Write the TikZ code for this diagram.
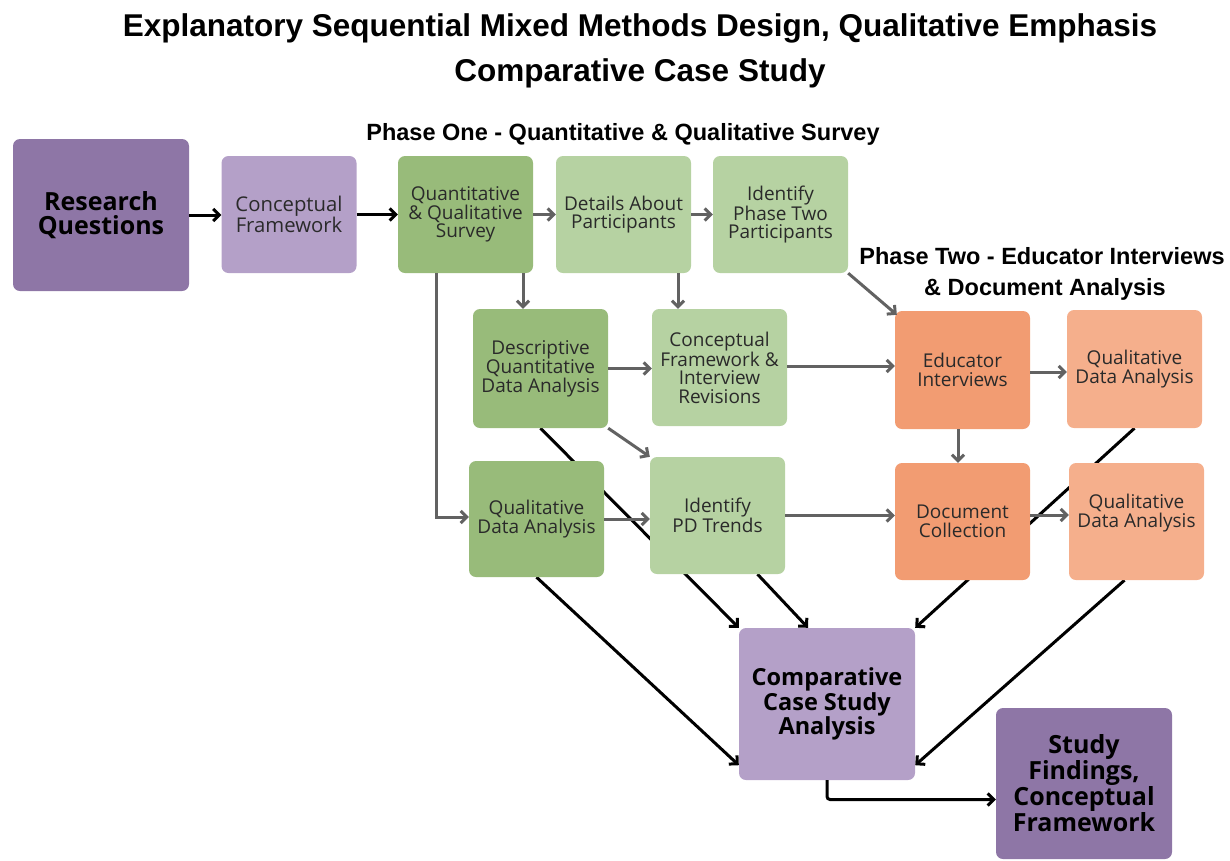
\documentclass[tikz,border=0pt]{standalone}
\usepackage{fontspec}
\setmainfont{Open Sans}
\newfontfamily\headfont{Liberation Sans}
\usetikzlibrary{arrows.meta,calc}
\pgfdeclarelayer{back}
\pgfsetlayers{back,main}

\definecolor{plumdark}{HTML}{8E76A6}
\definecolor{plumlight}{HTML}{B4A0C8}
\definecolor{greendark}{HTML}{98BB7A}
\definecolor{greenlight}{HTML}{B6D2A2}
\definecolor{orangedark}{HTML}{F29C72}
\definecolor{orangelight}{HTML}{F5AF8C}
\definecolor{ink}{HTML}{2A2A2A}
\definecolor{flowgray}{HTML}{626262}

\tikzset{
  box/.style={rounded corners=7pt, inner sep=0pt, align=center, text=ink,
    font=\fontsize{19}{18.5}\selectfont},
  smallbox/.style={box, minimum width=135pt, minimum height=117pt},
  bigbox/.style={box, minimum width=176pt, minimum height=152pt,
    font=\fontsize{25}{24.5}\selectfont\bfseries, text=black},
  head/.style={font=\headfont\bfseries\fontsize{31.5}{31.5}\selectfont, text=black},
  phase/.style={font=\headfont\bfseries\fontsize{23.5}{23.5}\selectfont, text=black},
  grayflow/.style={draw=flowgray, line width=3pt,
    -{Straight Barb[length=6pt,width=12pt]}},
  blackflow/.style={draw=black, line width=3pt,
    -{Straight Barb[length=6pt,width=12pt]}},
}

\begin{document}
\begin{tikzpicture}[x=1pt,y=-1pt]
\useasboundingbox (0,0) rectangle (1230,860);

% headings
\node[head] (t1) at (640,28) {Explanatory Sequential Mixed Methods Design, Qualitative Emphasis};
\node[head] (t2) at (640,73) {Comparative Case Study};
\node[phase] (p1) at (623,134) {Phase One - Quantitative \& Qualitative Survey};
\node[phase] (p2a) at (1042,256) {Phase Two - Educator Interviews};
\node[phase] (p2b) at (1045,289) {\& Document Analysis};

% boxes
\node[bigbox, fill=plumdark] (rq) at (101,215) {Research\\Questions};
\node[smallbox, fill=plumlight, font=\fontsize{20.3}{19}\selectfont] (cf) at (289,214.5) {Conceptual\\Framework};
\node[smallbox, fill=greendark] (qqs) at (465.5,214.5) {Quantitative\\\& Qualitative\\Survey};
\node[smallbox, fill=greenlight] (dap) at (623.5,214.5) {Details About\\Participants};
\node[smallbox, fill=greenlight] (ipt) at (780.5,214.5) {Identify\\Phase Two\\Participants};
\node[smallbox, fill=greendark, minimum height=119pt] (dqda) at (540.5,368.5) {Descriptive\\Quantitative\\Data Analysis};
\node[smallbox, fill=greenlight] (cfir) at (719.5,367.5) {Conceptual\\Framework \&\\Interview\\Revisions};
\node[smallbox, fill=greendark, minimum height=116pt] (qda1) at (536.5,519) {Qualitative\\Data Analysis};
\node[smallbox, fill=greenlight] (pdt) at (717.5,515.5) {Identify\\PD Trends};
\node[smallbox, fill=orangedark, minimum height=118pt] (ei) at (962.5,370) {Educator\\Interviews};
\node[smallbox, fill=orangelight, minimum height=118pt] (qda2) at (1134.5,369) {Qualitative\\Data Analysis};
\node[smallbox, fill=orangedark] (dc) at (962.5,521.5) {Document\\Collection};
\node[smallbox, fill=orangelight] (qda3) at (1136.5,521.5) {};
\node[box] (qda3t) at (1136.5,513) {Qualitative\\Data Analysis};
\node[bigbox, fill=plumlight, font=\fontsize{23.5}{23}\selectfont\bfseries] (ccsa) at (827,704) {Comparative\\Case Study\\Analysis};
\node[bigbox, fill=plumdark, minimum height=151pt] (sf) at (1084,783.5) {Study\\Findings,\\Conceptual\\Framework};

% lines into the comparative analysis run behind the boxes
\begin{pgfonlayer}{back}
  \draw[blackflow] (dqda.south) -- (ccsa.north west);
  \draw[blackflow] ([xshift=40pt]pdt.south) -- ([xshift=-19pt]ccsa.north);
  \draw[blackflow] (qda1.south) -- ([yshift=15pt]ccsa.south west);
  \draw[blackflow] (qda2.south) -- (ccsa.north east);
  \draw[blackflow] ([xshift=-12pt]qda3.south) -- ([yshift=15pt]ccsa.south east);
\end{pgfonlayer}

% main sequence
\draw[blackflow] (rq.east) -- (rq.east -| cf.west);
\draw[blackflow] (cf.east) -- (cf.east -| qqs.west);
\draw[blackflow, rounded corners=3pt] (ccsa.south) |- ([yshift=-16pt]sf.west);

% phase one
\draw[grayflow] (qqs.east) -- (qqs.east -| dap.west);
\draw[grayflow] (dap.east) -- (dap.east -| ipt.west);
\draw[grayflow] ([xshift=57.5pt]qqs.south) -- ([xshift=57.5pt]qqs.south |- dqda.north);
\draw[grayflow] ([xshift=54.5pt]dap.south) -- ([xshift=54.5pt]dap.south |- cfir.north);
\draw[grayflow] ([xshift=-29.5pt]qqs.south) |- ([yshift=2pt]qda1.west);
\draw[grayflow] (dqda.east) -- (dqda.east -| cfir.west);
\draw[grayflow] (dqda.south east) -- (pdt.north west);
\draw[grayflow] (qda1.east) -- (qda1.east -| pdt.west);

% phase two
\draw[grayflow] (ipt.south east) -- ([xshift=2pt,yshift=-4pt]ei.north west);
\draw[grayflow] ([yshift=1.5pt]cfir.east) -- ([yshift=1.5pt]cfir.east -| ei.west);
\draw[grayflow] ([yshift=-2pt]ei.east) -- ([yshift=-2pt]ei.east -| qda2.west);
\draw[grayflow] ([xshift=-4.5pt]ei.south) -- ([xshift=-4.5pt]ei.south |- dc.north);
\draw[grayflow] (pdt.east) -- (pdt.east -| dc.west);
\draw[grayflow] ([yshift=6.5pt]dc.east) -- ([yshift=6.5pt]dc.east -| qda3.west);
\end{tikzpicture}
\end{document}
